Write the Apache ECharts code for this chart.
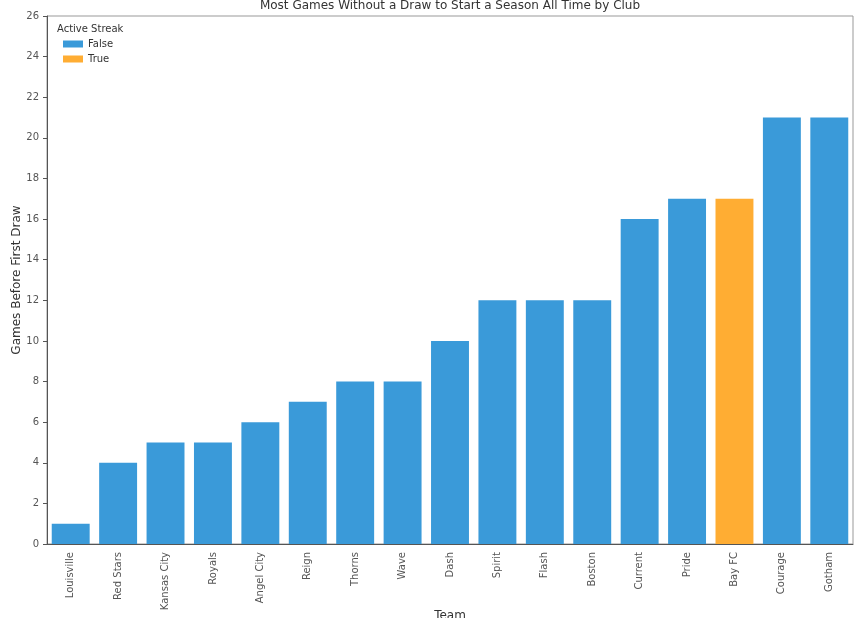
<!DOCTYPE html>
<html>
<head>
<meta charset="utf-8">
<script src="https://cdn.jsdelivr.net/npm/echarts@6/dist/echarts.min.js"></script>
<style>
  html, body { margin: 0; padding: 0; background: #fff; }
  #chart1 { width: 864px; height: 618px; }
</style>
</head>
<body>
<div id="chart1"></div>
<script>
// teams in plot order
var teams = ['Louisville', 'Red Stars', 'Kansas City', 'Royals', 'Angel City', 'Reign', 'Thorns', 'Wave',
    'Dash', 'Spirit', 'Flash', 'Boston', 'Current', 'Pride', 'Bay FC', 'Courage', 'Gotham'];
var gamesBeforeDraw = [1, 4, 5, 5, 6, 7, 8, 8, 10, 12, 12, 12, 16, 17, 17, 21, 21];
var activeStreak = [false, false, false, false, false, false, false, false, false, false, false, false, false, false, true, false, false];
var yTicks = [0, 2, 4, 6, 8, 10, 12, 14, 16, 18, 20, 22, 24, 26];

var falseData = [];
var trueData = [];
for (var i = 0; i < teams.length; i++) {
    if (activeStreak[i]) {
        falseData.push('-');
        trueData.push(gamesBeforeDraw[i]);
    } else {
        falseData.push(gamesBeforeDraw[i]);
        trueData.push('-');
    }
}

var chart1 = echarts.init(document.getElementById('chart1'));
var fontFam = 'DejaVu Sans';
var option = {
    animation: false,
    textStyle: { fontFamily: fontFam },
    title: {
        text: 'Most Games Without a Draw to Start a Season All Time by Club',
        left: 450, top: 0, textAlign: 'center', padding: 0,
        textStyle: { fontSize: 12, fontWeight: 'normal', color: '#333', fontFamily: fontFam }
    },
    graphic: [{
        type: 'text', left: 57, top: 24,
        style: { text: 'Active Streak', fontSize: 10, fill: '#333', fontFamily: fontFam }
    }],
    legend: {
        orient: 'vertical', left: 63, top: 39, padding: 0,
        itemWidth: 20, itemHeight: 7, itemGap: 5,
        icon: 'rect',
        textStyle: { fontSize: 10, color: '#333', fontFamily: fontFam },
        data: ['False', 'True']
    },
    grid: {
        left: 47, right: 11, top: 16, bottom: 74,
        outerBoundsMode: 'none', containLabel: false,
        show: true, borderColor: '#999', borderWidth: 1
    },
    xAxis: {
        type: 'category',
        data: teams,
        name: 'Team', nameLocation: 'middle', nameGap: 66, nameMoveOverlap: false,
        nameTextStyle: { fontSize: 12, color: '#333' },
        axisLine: { lineStyle: { color: '#555' } },
        axisTick: { alignWithLabel: true, length: 4, lineStyle: { color: '#555' } },
        axisLabel: { rotate: 90, fontSize: 10, color: '#555', interval: 0, margin: 8 }
    },
    yAxis: {
        type: 'value', min: 0, max: 26, interval: 2,
        name: 'Games Before First Draw', nameLocation: 'middle', nameGap: 24, nameMoveOverlap: false,
        nameTextStyle: { fontSize: 12, color: '#333' },
        axisLine: { show: true, lineStyle: { color: '#555' } },
        axisTick: { show: true, length: 4, lineStyle: { color: '#555' } },
        axisLabel: {
            fontSize: 10, color: '#555', margin: 8,
            formatter: function (v) { return yTicks.indexOf(v) >= 0 ? String(v) : ''; }
        },
        splitLine: { show: false }
    },
    series: [{
        name: 'False', type: 'bar', stack: 'total',
        data: falseData, barCategoryGap: '20%',
        itemStyle: { color: '#3A9AD9' }
    }, {
        name: 'True', type: 'bar', stack: 'total',
        data: trueData, barCategoryGap: '20%',
        itemStyle: { color: '#FFAD33' }
    }]
};
chart1.setOption(option, true);
</script>
</body>
</html>
